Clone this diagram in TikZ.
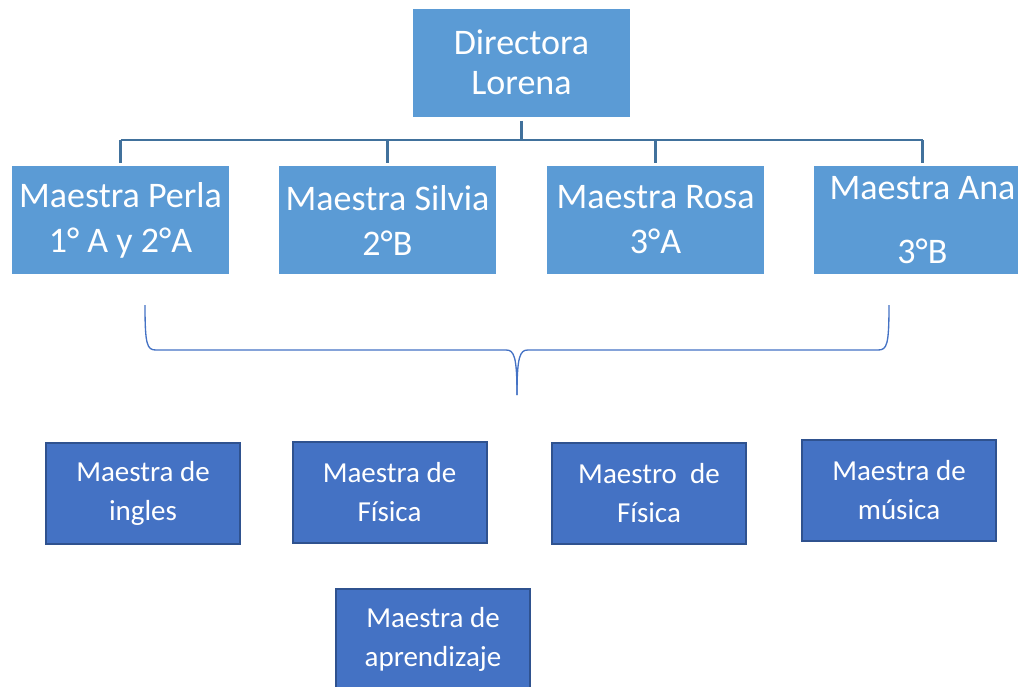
\documentclass[tikz,border=0pt]{standalone}
\usepackage{fontspec}
\setmainfont{Carlito}
\definecolor{boxlight}{HTML}{5B9BD5}
\definecolor{boxdark}{HTML}{4472C4}
\definecolor{edgedark}{HTML}{2F528F}
\definecolor{linkblue}{HTML}{41719C}
\tikzset{
  upper/.style={fill=boxlight, text=white, minimum width=162.75pt, minimum height=81pt,
    inner sep=0pt, align=center, font=\fontsize{27}{33.75}\selectfont},
  lower/.style={fill=boxdark, draw=edgedark, line width=1.5pt, text=white,
    minimum width=145.5pt, minimum height=75.75pt, inner sep=0pt, align=center,
    font=\fontsize{21.75}{29.25}\selectfont},
  link/.style={draw=linkblue, line width=2pt},
  curly/.style={draw=boxdark, line width=1pt},
}
\begin{document}
\begin{tikzpicture}[x=0.75pt, y=-0.75pt]
    \useasboundingbox (0,0) rectangle (1018,686);
    \clip (0,0) rectangle (1018,686);

    \node[upper, font=\fontsize{27}{30}\selectfont] (D) at (521.5, 62.5) {Directora\\Lorena};

    \node[upper] (P) at (120.5, 220) {Maestra Perla\\1° A y 2°A};
    \node[upper] (S) at (387.5, 220) {Maestra Silvia\\2°B};
    \node[upper] (R) at (655.5, 220) {Maestra Rosa\\3°A};
    \node[upper, font=\fontsize{27}{45}\selectfont] (A) at (922.5, 220) {\raisebox{3pt}{Maestra Ana}\\3°B};

    \node[lower] (ing) at (143, 493.5) {Maestra de\\ingles};
    \node[lower] (fis) at (389.5, 492.5) {Maestra de\\Física};
    \node[lower] (fis2) at (649, 493) {Maestro\ \ de\\Física};
    \node[lower] (mus) at (899, 490.5) {Maestra de\\música};
    \node[lower] (apr) at (433, 639.5) {Maestra de\\aprendizaje};

    % org chart lines
    \coordinate (bar) at (521, 140);
    \draw[link, shorten <=3pt] (D.south) -- (D.south |- bar);
    \draw[link] (P.north |- bar) -- (A.north |- bar);
    \foreach \n in {P,S,R,A}
        \draw[link, shorten >=2.25pt] (\n.north |- bar) -- (\n.north);

    % brace
    \coordinate (bl) at (145, 305);
    \coordinate (br) at (889, 305);
    \coordinate (tip) at (517, 395);
    \draw[curly] (bl) .. controls (145, 345) and (147, 350) .. (156, 350) -- (506, 350)
        .. controls (514, 350) and (517, 356) .. (tip);
    \draw[curly] (tip) .. controls (517, 356) and (520, 350) .. (528, 350) -- (878, 350)
        .. controls (887, 350) and (889, 345) .. (br);
\end{tikzpicture}
\end{document}
